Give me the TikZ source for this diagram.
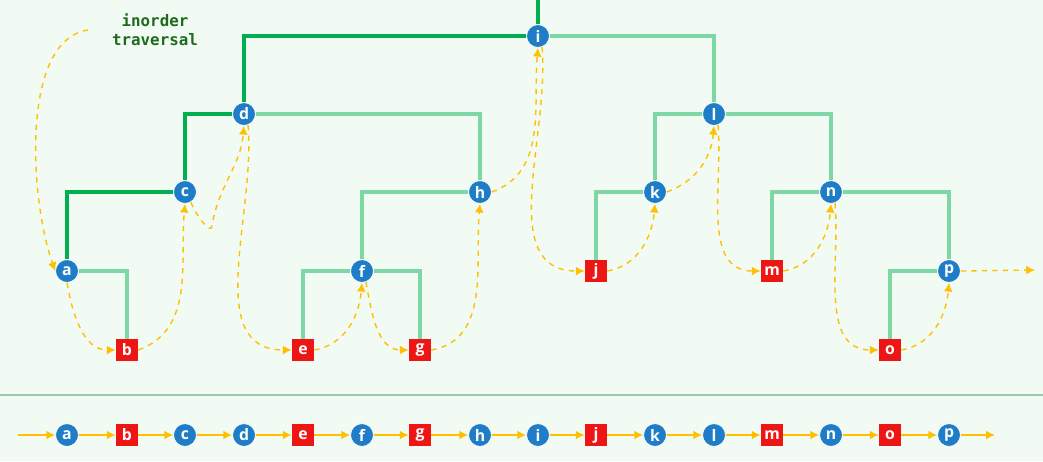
\documentclass[tikz,border=0pt]{standalone}
\usepackage{fontspec}
\setsansfont{Open Sans}
\setmonofont{DejaVu Sans Mono}
\usetikzlibrary{arrows.meta}
\pgfdeclarelayer{background}
\pgfsetlayers{background,main}
\definecolor{bgmint}{HTML}{F1FBF4}
\definecolor{nodeblue}{HTML}{1E7DC6}
\definecolor{leafred}{HTML}{EE1515}
\definecolor{darkedge}{HTML}{00B050}
\definecolor{lightedge}{HTML}{7DD8A5}
\definecolor{travorange}{HTML}{FFC000}
\definecolor{labelgreen}{HTML}{1E6B1E}
\tikzset{
  inner/.style={circle,fill=nodeblue,draw=white,line width=0.4pt,minimum size=13pt,inner sep=0pt,
    text=white,font=\sffamily\bfseries\small},
  leaf/.style={rectangle,fill=leafred,minimum size=12.5pt,inner sep=0pt,
    text=white,font=\sffamily\bfseries\small},
  edge/.style={lightedge,line width=2.4pt},
  path/.style={darkedge,line width=2.8pt},
  trav/.style={travorange,dashed,line width=0.8pt,-{Latex[length=5pt,width=5pt]}},
  flow/.style={travorange,line width=1.1pt,-{Latex[length=5pt,width=5pt]}}
}
\begin{document}
\begin{tikzpicture}[x=0.02cm,y=-0.02cm]
  \useasboundingbox (0,0) rectangle (1043,461);

  % tree
  \node[inner] (a) at (67,271) {a};
  \node[leaf]  (b) at (127,350) {b};
  \node[inner] (c) at (185,192) {c};
  \node[inner] (d) at (244,114) {d};
  \node[leaf]  (e) at (303,350) {e};
  \node[inner] (f) at (362,271) {f};
  \node[leaf]  (g) at (420,350) {g};
  \node[inner] (h) at (480,192) {h};
  \node[inner] (i) at (538,36) {i};
  \node[leaf]  (j) at (596,271) {j};
  \node[inner] (k) at (655,192) {k};
  \node[inner] (l) at (714,114) {l};
  \node[leaf]  (m) at (772,271) {m};
  \node[inner] (n) at (831,192) {n};
  \node[leaf]  (o) at (890,350) {o};
  \node[inner] (p) at (949,271) {p};

  \node[font=\ttfamily\bfseries\small,text=labelgreen,align=center] (title) at (155,30) {inorder\\traversal};
  \coordinate (top) at (538,0);
  \coordinate (pend) at (1035,270);

  \begin{pgfonlayer}{background}
    \fill[bgmint] (0,0) rectangle (1043,461);
    \draw[edge] (i) -| (l);
    \draw[edge] (d) -| (h);
    \draw[edge] (a) -| (b);
    \draw[edge] (h) -| (f);
    \draw[edge] (f) -| (e);
    \draw[edge] (f) -| (g);
    \draw[edge] (l) -| (k);
    \draw[edge] (l) -| (n);
    \draw[edge] (k) -| (j);
    \draw[edge] (n) -| (m);
    \draw[edge] (n) -| (p);
    \draw[edge] (p) -| (o);
    \draw[path] (top) -- (i);
    \draw[path] (i) -| (d);
    \draw[path] (d) -| (c);
    \draw[path] (c) -| (a);
    \draw[color=black!25!lightedge!60!white,line width=1.6pt] (0,395) -- (1043,395);
  \end{pgfonlayer}

  % traversal
  \draw[trav] (88,30) .. controls (20,40) and (30,200) .. (a.west);
  \draw[trav] (a.south) to[out=-80,in=180] (b.west);
  \draw[trav] (b.east) to[out=20,in=-95] (c.south);
  \draw[trav] (c.-60) to[out=-70,in=-90] (212,225) to[out=80,in=-95] (d.south);
  \draw[trav] (d.-70) to[out=-85,in=180] (e.west);
  \draw[trav] (e.east) to[out=10,in=-95] (f.south);
  \draw[trav] (f.-70) to[out=-80,in=180] (g.west);
  \draw[trav] (g.east) to[out=10,in=-95] (h.south);
  \draw[trav] (h.east) to[out=20,in=-95] (i.south);
  \draw[trav] (i.-70) to[out=-85,in=180] (j.west);
  \draw[trav] (j.east) to[out=10,in=-95] (k.south);
  \draw[trav] (k.east) to[out=20,in=-95] (l.south);
  \draw[trav] (l.-70) to[out=-85,in=180] (m.west);
  \draw[trav] (m.east) to[out=10,in=-95] (n.south);
  \draw[trav] (n.-70) to[out=-85,in=180] (o.west);
  \draw[trav] (o.east) to[out=10,in=-95] (p.south);
  \draw[trav] (p.east) -- (pend);

  % inorder sequence
  \coordinate (start) at (18,435);
  \coordinate (stop) at (995,435);
  \node[inner] (a2) at (67,435) {a};
  \node[leaf]  (b2) at (127,435) {b};
  \node[inner] (c2) at (185,435) {c};
  \node[inner] (d2) at (244,435) {d};
  \node[leaf]  (e2) at (303,435) {e};
  \node[inner] (f2) at (362,435) {f};
  \node[leaf]  (g2) at (420,435) {g};
  \node[inner] (h2) at (480,435) {h};
  \node[inner] (i2) at (538,435) {i};
  \node[leaf]  (j2) at (596,435) {j};
  \node[inner] (k2) at (655,435) {k};
  \node[inner] (l2) at (714,435) {l};
  \node[leaf]  (m2) at (772,435) {m};
  \node[inner] (n2) at (831,435) {n};
  \node[leaf]  (o2) at (890,435) {o};
  \node[inner] (p2) at (949,435) {p};
  \draw[flow] (start) -- (a2);
  \draw[flow] (a2) -- (b2);
  \draw[flow] (b2) -- (c2);
  \draw[flow] (c2) -- (d2);
  \draw[flow] (d2) -- (e2);
  \draw[flow] (e2) -- (f2);
  \draw[flow] (f2) -- (g2);
  \draw[flow] (g2) -- (h2);
  \draw[flow] (h2) -- (i2);
  \draw[flow] (i2) -- (j2);
  \draw[flow] (j2) -- (k2);
  \draw[flow] (k2) -- (l2);
  \draw[flow] (l2) -- (m2);
  \draw[flow] (m2) -- (n2);
  \draw[flow] (n2) -- (o2);
  \draw[flow] (o2) -- (p2);
  \draw[flow] (p2) -- (stop);
\end{tikzpicture}
\end{document}
